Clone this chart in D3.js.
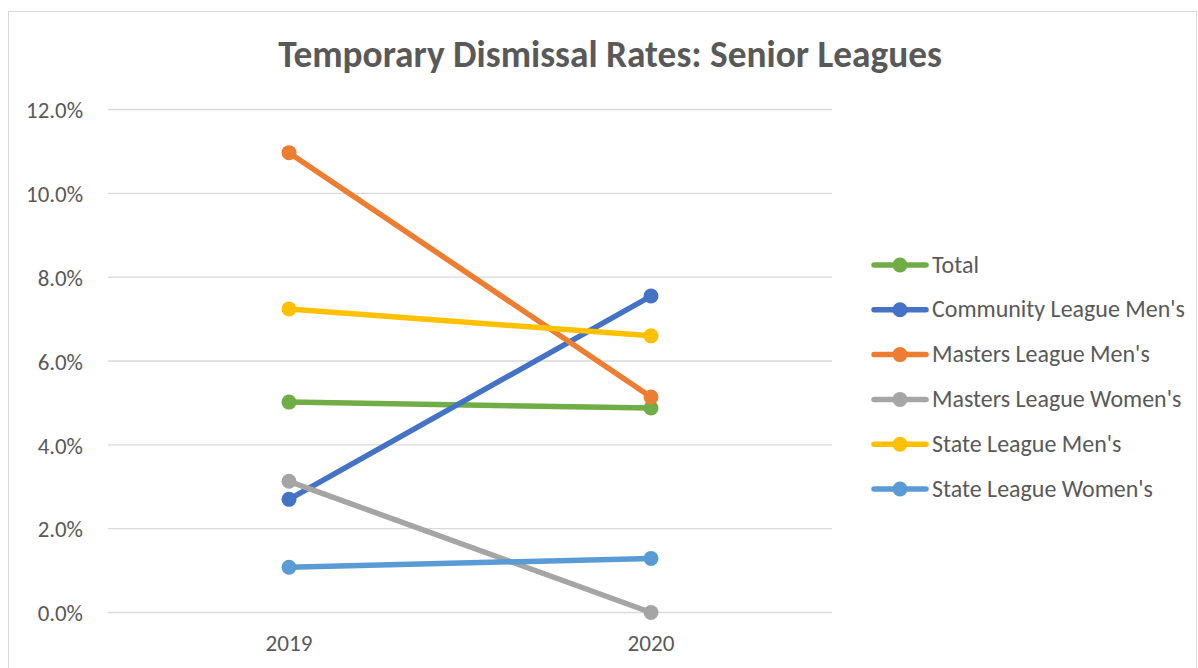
<!DOCTYPE html>
<html>
<head>
<meta charset="utf-8">
<script src="https://cdn.jsdelivr.net/npm/d3@7"></script>
<style>
  body { margin: 0; background: #fff; }
  svg { display: block; }
  text { font-family: Carlito, Calibri, "Open Sans", sans-serif; fill: #595959; }
</style>
</head>
<body>
<svg id="chart" width="1198" height="668"></svg>
<script>
// ---- data ----
const years = ["2019", "2020"];
const seriesNames = ["Total", "Community League Men's", "Masters League Men's",
  "Masters League Women's", "State League Men's", "State League Women's"];
const total = [0.0502, 0.0488];
const communityMen = [0.0270, 0.0755];
const mastersMen = [0.1097, 0.0514];
const mastersWomen = [0.0313, 0.0000];
const stateMen = [0.0724, 0.0660];
const stateWomen = [0.0108, 0.0129];
const yTicks = [0, 0.02, 0.04, 0.06, 0.08, 0.10, 0.12];

const colors = ["#70AD47", "#4472C4", "#ED7D31", "#A5A5A5", "#FFC000", "#5B9BD5"];
const allSeries = [total, communityMen, mastersMen, mastersWomen, stateMen, stateWomen];

const FONT = "Carlito, Calibri, 'Open Sans', sans-serif";
const svg = d3.select("#chart");

// scale font-size of a selection so that one of its texts has the target width
function fitGroup(sel, refNode, target) {
  const fs = parseFloat(d3.select(refNode).attr("font-size"));
  const k = target / refNode.getComputedTextLength();
  sel.attr("font-size", fs * k);
}

// chart border
svg.append("rect")
  .attr("x", 8.5).attr("y", 11.5)
  .attr("width", 1188).attr("height", 700)
  .attr("fill", "none").attr("stroke", "#d9d9d9").attr("stroke-width", 1);

// title
const title = svg.append("text")
  .attr("x", 610).attr("y", 67)
  .attr("text-anchor", "middle")
  .attr("font-size", 30).attr("font-weight", "bold")
  .text("Temporary Dismissal Rates: Senior Leagues");
fitGroup(title, title.node(), 664);

// scales
const x = d3.scaleBand().domain(years).range([108, 832]);
const y = d3.scaleLinear().domain([0, 0.12]).range([612.5, 109.5]);

// gridlines
svg.append("g")
  .selectAll("line").data(yTicks).join("line")
  .attr("x1", 108).attr("x2", 832)
  .attr("y1", d => y(d)).attr("y2", d => y(d))
  .attr("stroke", "#d9d9d9").attr("stroke-width", 1.3);

// y axis
const yAxis = svg.append("g")
  .attr("transform", "translate(108,0)")
  .call(d3.axisLeft(y).tickValues(yTicks).tickFormat(d3.format(".1%")).tickSize(0).tickPadding(25));
yAxis.select(".domain").remove();
const yLabels = yAxis.selectAll("text")
  .attr("font-size", 17).style("font-family", FONT).attr("fill", "#595959").attr("dy", "0.36em");
fitGroup(yLabels, yLabels.nodes()[yLabels.size() - 1], 57);

// x axis
const xAxis = svg.append("g")
  .attr("transform", "translate(0,612.5)")
  .call(d3.axisBottom(x).tickSize(0).tickPadding(22));
xAxis.select(".domain").remove();
const xLabels = xAxis.selectAll("text")
  .attr("font-size", 17).style("font-family", FONT).attr("fill", "#595959");
fitGroup(xLabels, xLabels.node(), 47);

// lines
const cx = d => x(d) + x.bandwidth() / 2;
const line = d3.line().x((d, i) => cx(years[i])).y(d => y(d));

allSeries.forEach((vals, k) => {
  svg.append("path")
    .datum(vals)
    .attr("d", line)
    .attr("fill", "none")
    .attr("stroke", colors[k])
    .attr("stroke-width", 5.5)
    .attr("stroke-linecap", "round");
  svg.append("g").selectAll("circle").data(vals).join("circle")
    .attr("cx", (d, i) => cx(years[i]))
    .attr("cy", d => y(d))
    .attr("r", 7.5)
    .attr("fill", colors[k]);
});

// legend
const legend = svg.append("g");
seriesNames.forEach((name, k) => {
  const ly = 265 + k * 44.8;
  legend.append("line")
    .attr("x1", 874).attr("x2", 926).attr("y1", ly).attr("y2", ly)
    .attr("stroke", colors[k]).attr("stroke-width", 5.5).attr("stroke-linecap", "round");
  legend.append("circle")
    .attr("cx", 900).attr("cy", ly).attr("r", 7.5).attr("fill", colors[k]);
  legend.append("text")
    .attr("x", 932).attr("y", ly + 7.5)
    .attr("font-size", 19)
    .text(name);
});
const legTexts = legend.selectAll("text");
fitGroup(legTexts, legTexts.nodes()[1], 253);
</script>
</body>
</html>
